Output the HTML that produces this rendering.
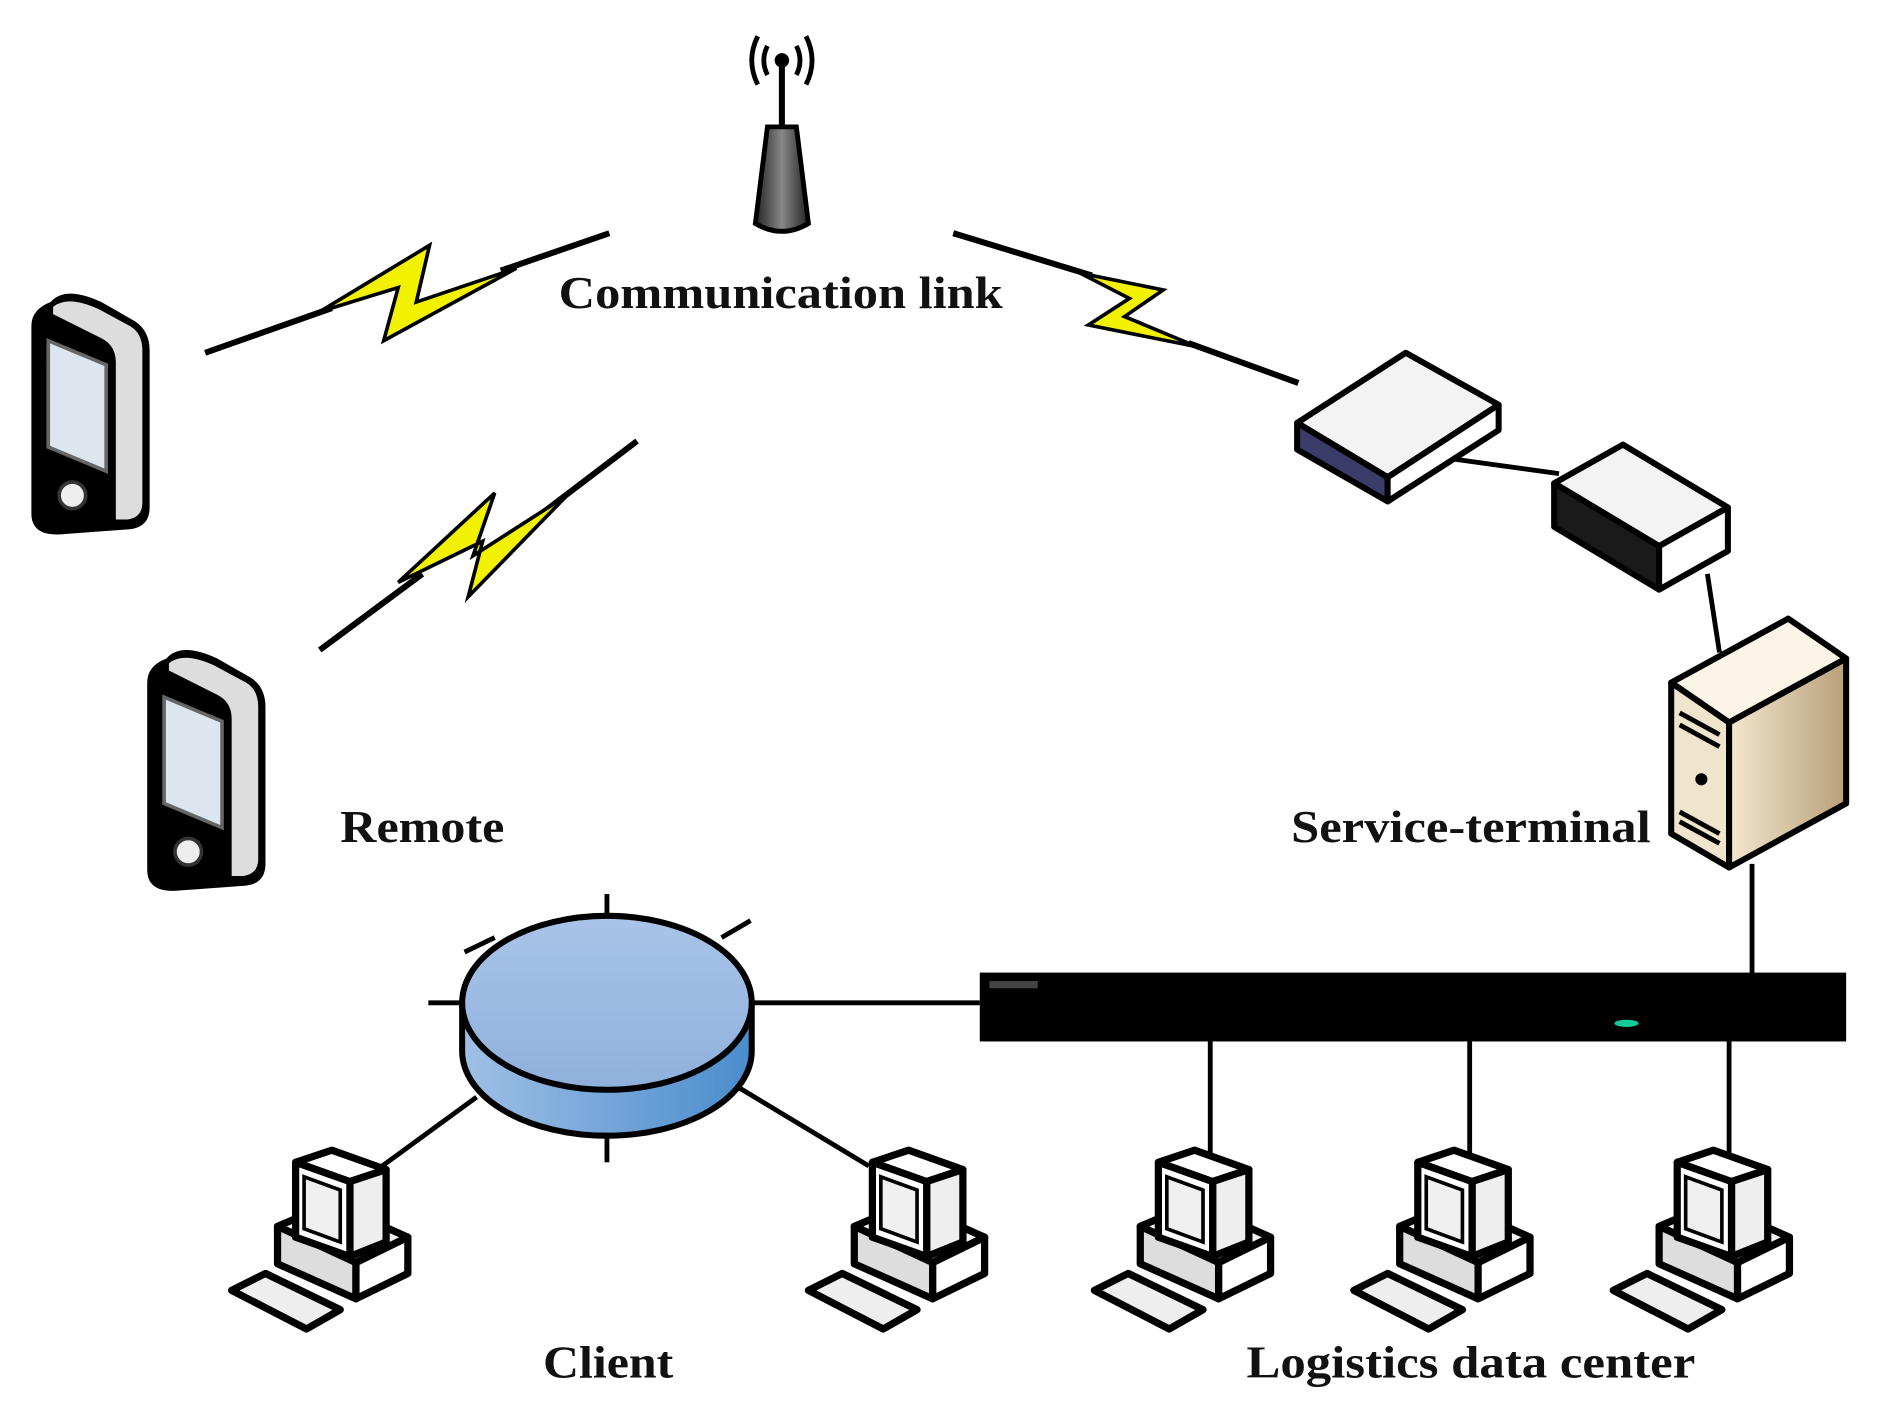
<!DOCTYPE html>
<html><head><meta charset="utf-8"><style>
html,body{margin:0;padding:0;background:#fff;}
svg{display:block;}
text{font-family:"Liberation Serif",serif;font-weight:bold;fill:#111;}
</style></head><body>
<svg width="1892" height="1416" viewBox="0 0 1568 1172" preserveAspectRatio="none" xmlns="http://www.w3.org/2000/svg">
<defs>
<linearGradient id="tower" x1="0" x2="1"><stop offset="0" stop-color="#222"/><stop offset="0.5" stop-color="#888"/><stop offset="1" stop-color="#222"/></linearGradient>
<linearGradient id="hubtop" x1="0" y1="0" x2="0" y2="1"><stop offset="0" stop-color="#a9c4e8"/><stop offset="1" stop-color="#8fb0dc"/></linearGradient>
<linearGradient id="hubside" x1="0" x2="1"><stop offset="0" stop-color="#9fc0e6"/><stop offset="1" stop-color="#4a8ccc"/></linearGradient>
<linearGradient id="srvside" x1="0" x2="1"><stop offset="0" stop-color="#f3e7cf"/><stop offset="1" stop-color="#b9a07a"/></linearGradient>
<g id="pc">
 <polygon points="2,118 30,104 92,134 64,150" fill="#eee" stroke="#000" stroke-width="6" stroke-linejoin="round"/>
 <polygon points="40,65 85,46 148,74 105,95" fill="#f3f3f3" stroke="#000" stroke-width="6" stroke-linejoin="round"/>
 <polygon points="40,65 105,95 105,125 40,96" fill="#ddd" stroke="#000" stroke-width="6" stroke-linejoin="round"/>
 <polygon points="105,95 148,74 148,104 105,125" fill="#fff" stroke="#000" stroke-width="6" stroke-linejoin="round"/>
 <polygon points="55,12 85,2 130,18 100,28" fill="#fff" stroke="#000" stroke-width="6" stroke-linejoin="round"/>
 <polygon points="100,28 130,18 130,78 100,90" fill="#eee" stroke="#000" stroke-width="6" stroke-linejoin="round"/>
 <polygon points="55,12 100,28 100,90 55,74" fill="#fff" stroke="#000" stroke-width="6" stroke-linejoin="round"/>
 <polygon points="62,24 92,35 92,78 62,67" fill="#f0f0f0" stroke="#000" stroke-width="3"/>
</g>
<g id="phone">
 <path d="M18,10 Q30,-4 60,10 L88,26 Q100,34 100,50 L100,180 Q100,196 84,198 L30,202 Q2,205 2,185 L2,30 Q2,16 18,10 Z" fill="#000"/>
 <path d="M20,14 Q32,4 58,16 L84,30 Q94,36 94,50 L94,176 Q94,188 82,190 L72,190 L72,60 Q72,46 60,40 L20,20 Z" fill="#ddd"/>
 <polygon points="16,42 64,62 64,150 16,130" fill="#dde6ee" stroke="#666" stroke-width="3"/>
 <circle cx="36" cy="170" r="11" fill="#eee" stroke="#333" stroke-width="3"/>
</g>
</defs>

<!-- antenna -->
<g fill="none" stroke="#000" stroke-width="4">
 <path d="M636,38 Q630,50 636,62"/><path d="M660,38 Q666,50 660,62"/>
 <path d="M628,30 Q618,50 628,70"/><path d="M668,30 Q678,50 668,70"/>
</g>
<circle cx="648" cy="50" r="6" fill="#000"/>
<line x1="648" y1="50" x2="648" y2="105" stroke="#000" stroke-width="5"/>
<path d="M636,105 L660,105 L670,185 Q648,198 626,185 Z" fill="url(#tower)" stroke="#000" stroke-width="4"/>

<!-- lightning links -->
<g stroke="#000" stroke-width="5" stroke-linejoin="miter">
 <line x1="170" y1="292" x2="275" y2="255"/>
 <line x1="415" y1="224" x2="505" y2="193"/>
 <polygon points="265,258 356,203 345,250 428,222 318,282 330,238" fill="#f2f200" stroke-width="3"/>
 <line x1="790" y1="193" x2="905" y2="228"/>
 <line x1="985" y1="284" x2="1076" y2="317"/>
 <polygon points="895,226 964,240 932,262 992,287 902,269 936,247" fill="#f2f200" stroke-width="3"/>
 <line x1="265" y1="538" x2="350" y2="475"/>
 <line x1="445" y1="428" x2="528" y2="365"/>
 <polygon points="330,482 410,408 392,460 470,410 388,494 400,448" fill="#f2f200" stroke-width="3"/>
</g>

<text x="647" y="255" font-size="38" text-anchor="middle" textLength="368" lengthAdjust="spacingAndGlyphs">Communication link</text>

<!-- phones -->
<use href="#phone" x="24" y="240"/>
<use href="#phone" x="120" y="535"/>
<text x="282" y="697" font-size="38" textLength="136" lengthAdjust="spacingAndGlyphs">Remote</text>

<!-- modem -->
<line x1="1205" y1="380" x2="1292" y2="392" stroke="#000" stroke-width="4"/>
<polygon points="1075,350 1165,292 1242,335 1150,395" fill="#f3f3f3" stroke="#000" stroke-width="5" stroke-linejoin="round"/>
<polygon points="1075,350 1150,395 1150,415 1075,372" fill="#3c3c6a" stroke="#000" stroke-width="5" stroke-linejoin="round"/>
<polygon points="1150,395 1242,335 1242,356 1150,415" fill="#fff" stroke="#000" stroke-width="5" stroke-linejoin="round"/>
<!-- switch -->
<line x1="1415" y1="475" x2="1425" y2="540" stroke="#000" stroke-width="4"/>
<polygon points="1288,400 1345,368 1432,420 1375,452" fill="#f3f3f3" stroke="#000" stroke-width="5" stroke-linejoin="round"/>
<polygon points="1288,400 1375,452 1375,488 1288,436" fill="#1a1a1a" stroke="#000" stroke-width="5" stroke-linejoin="round"/>
<polygon points="1375,452 1432,420 1432,456 1375,488" fill="#fff" stroke="#000" stroke-width="5" stroke-linejoin="round"/>
<!-- server -->
<line x1="1452" y1="715" x2="1452" y2="808" stroke="#000" stroke-width="4"/>
<polygon points="1385,565 1482,512 1530,545 1433,598" fill="#fbf5e8" stroke="#000" stroke-width="5" stroke-linejoin="round"/>
<polygon points="1385,565 1433,598 1433,718 1385,690" fill="#efe4cc" stroke="#000" stroke-width="5" stroke-linejoin="round"/>
<polygon points="1433,598 1530,545 1530,665 1433,718" fill="url(#srvside)" stroke="#000" stroke-width="5" stroke-linejoin="round"/>
<g stroke="#000" stroke-width="4"><line x1="1392" y1="590" x2="1425" y2="608"/><line x1="1392" y1="600" x2="1425" y2="618"/><line x1="1392" y1="672" x2="1425" y2="690"/><line x1="1392" y1="680" x2="1425" y2="698"/></g>
<circle cx="1410" cy="645" r="5" fill="#000"/>
<text x="1070" y="697" font-size="38" textLength="298" lengthAdjust="spacingAndGlyphs">Service-terminal</text>

<!-- backbone bar -->
<line x1="624" y1="830" x2="812" y2="830" stroke="#000" stroke-width="4"/>
<rect x="812" y="805" width="718" height="57" fill="#000"/>
<rect x="820" y="812" width="40" height="6" fill="#444"/>
<ellipse cx="1348" cy="847" rx="10" ry="3" fill="#1c9"/>
<g stroke="#000" stroke-width="4">
 <line x1="1003" y1="862" x2="1003" y2="962"/>
 <line x1="1218" y1="862" x2="1218" y2="962"/>
 <line x1="1433" y1="862" x2="1433" y2="962"/>
 <line x1="395" y1="908" x2="310" y2="970"/>
 <line x1="612" y1="900" x2="720" y2="965"/>
 <line x1="503" y1="740" x2="503" y2="760"/>
 <line x1="503" y1="942" x2="503" y2="962"/>
 <line x1="355" y1="830" x2="382" y2="830"/>
 <line x1="385" y1="788" x2="410" y2="776"/>
 <line x1="622" y1="762" x2="598" y2="776"/>
</g>
<!-- hub -->
<path d="M383,830 L383,870 A120,70 0 0 0 623,870 L623,830 Z" fill="url(#hubside)" stroke="#000" stroke-width="5"/>
<ellipse cx="503" cy="830" rx="120" ry="72" fill="url(#hubtop)" stroke="#000" stroke-width="5"/>

<!-- computers -->
<use href="#pc" x="190" y="950"/>
<use href="#pc" x="668" y="950"/>
<use href="#pc" x="905" y="950"/>
<use href="#pc" x="1120" y="950"/>
<use href="#pc" x="1335" y="950"/>

<text x="450" y="1140" font-size="38" textLength="108" lengthAdjust="spacingAndGlyphs">Client</text>
<text x="1033" y="1140" font-size="38" textLength="372" lengthAdjust="spacingAndGlyphs">Logistics data center</text>
</svg>
</body></html>
